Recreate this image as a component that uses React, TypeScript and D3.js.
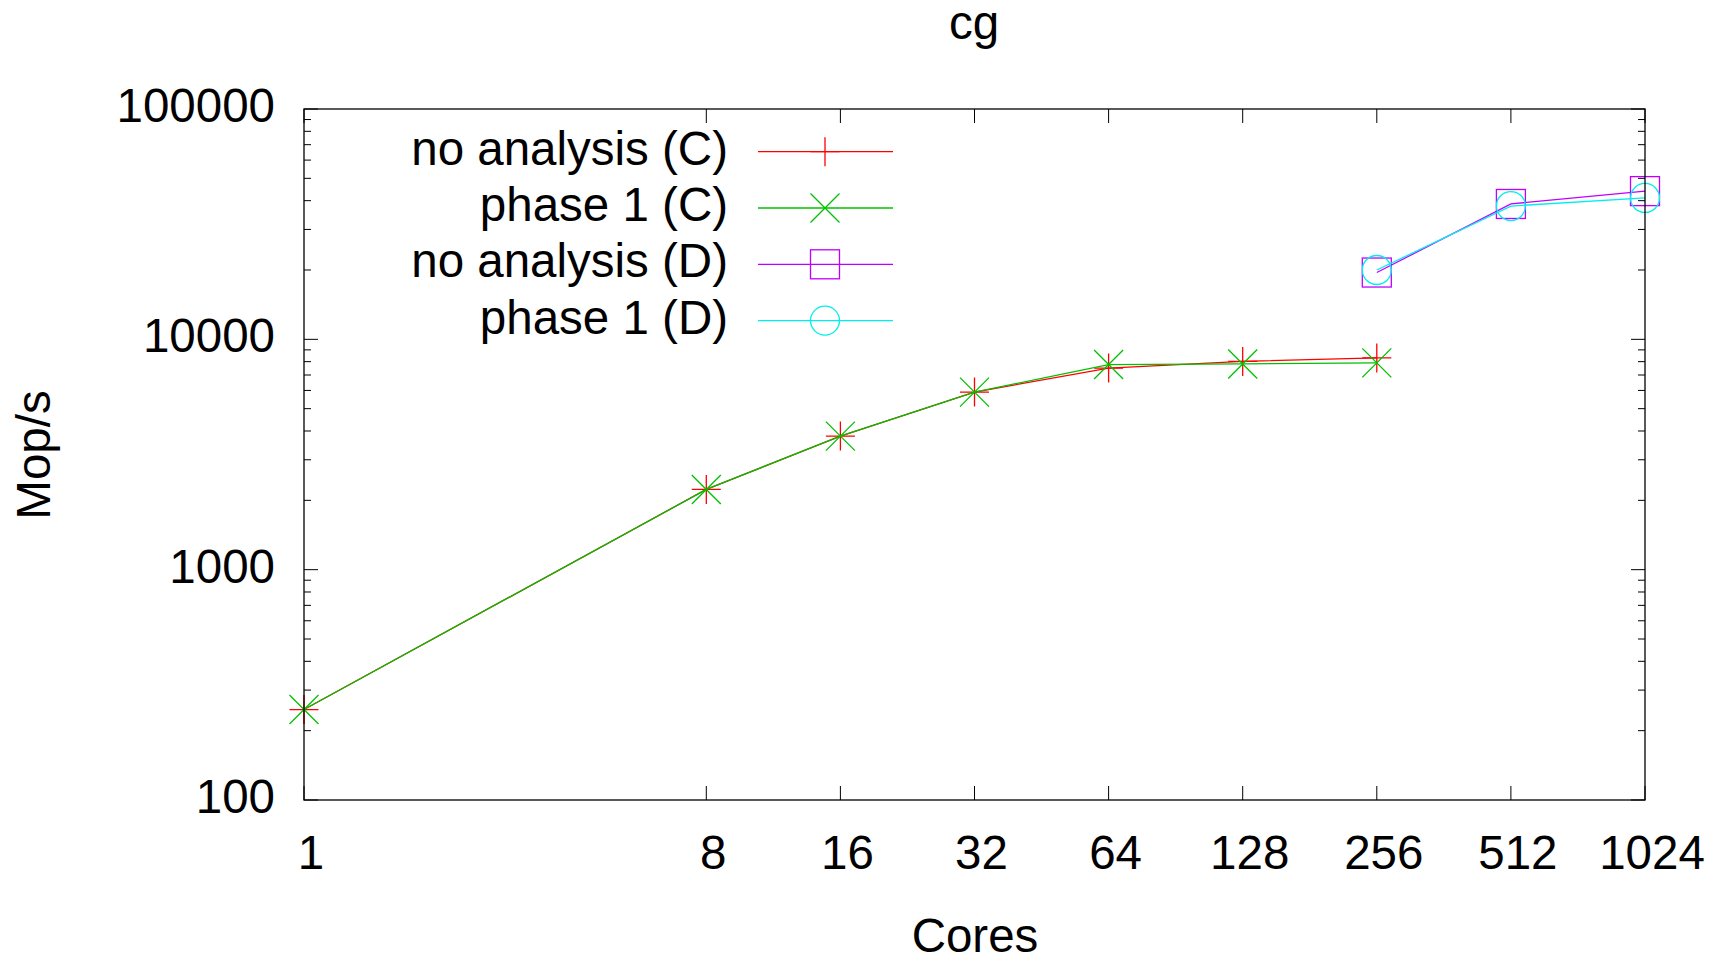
import React from "react";
import * as d3 from "d3";

const cores = [1, 8, 16, 32, 64, 128, 256, 512, 1024];
const coresC = [1, 8, 16, 32, 64, 128, 256];
const noAnalysisC = [247, 2230, 3800, 5900, 7500, 8020, 8300];
const phase1C = [247, 2230, 3800, 5900, 7770, 7820, 7900];
const coresD = [256, 512, 1024];
const noAnalysisD = [19500, 38700, 44000];
const phase1D = [20000, 37900, 41100];
const yTicks = [100, 1000, 10000, 100000];
const seriesNames = ["no analysis (C)", "phase 1 (C)", "no analysis (D)", "phase 1 (D)"];
const seriesColors = ["#ff0000", "#00c000", "#c000ff", "#00eeee"];
const seriesMarkers = ["plus", "cross", "square", "circle"];

const W = 1725;
const H = 958;
const L = 304, R = 1645, T = 109, B = 800;
const FONT = "'Liberation Sans', Arial, sans-serif";
const FS = 47.5;
const MS = 14.5;

function Marker({ type, x, y, color }: { type: string; x: number; y: number; color: string }) {
  const sw = 1.3;
  if (type === "plus")
    return <path d={`M${x - MS},${y}H${x + MS}M${x},${y - MS}V${y + MS}`} stroke={color} strokeWidth={sw} fill="none" />;
  if (type === "cross")
    return <path d={`M${x - MS},${y - MS}L${x + MS},${y + MS}M${x - MS},${y + MS}L${x + MS},${y - MS}`} stroke={color} strokeWidth={sw} fill="none" />;
  if (type === "square")
    return <rect x={x - MS} y={y - MS} width={2 * MS} height={2 * MS} stroke={color} strokeWidth={sw} fill="none" />;
  return <circle cx={x} cy={y} r={MS} stroke={color} strokeWidth={sw} fill="none" />;
}

export default function App() {
  const x = d3.scaleLog().base(2).domain([1, 1024]).range([L, R]);
  const y = d3.scaleLog().domain([100, 100000]).range([B, T]);
  const line = d3.line<[number, number]>().x((d) => x(d[0])).y((d) => y(d[1]));

  const series = [
    { xs: coresC, ys: noAnalysisC },
    { xs: coresC, ys: phase1C },
    { xs: coresD, ys: noAnalysisD },
    { xs: coresD, ys: phase1D },
  ];

  const minor: number[] = [];
  for (let dec = 100; dec < 100000; dec *= 10) {
    for (let k = 2; k <= 9; k++) minor.push(dec * k);
  }

  const legendY0 = 151.7;
  const legendDY = 56.3;

  return (
    <svg width={W} height={H} style={{ position: "absolute", left: 0, top: 0, background: "#fff" }} fontFamily={FONT}>
      <rect x={0} y={0} width={W} height={H} fill="#fff" />
      {/* ticks */}
      <g stroke="#000" strokeWidth={1}>
        {yTicks.map((v) => (
          <g key={"yt" + v}>
            <line x1={L} x2={L + 14} y1={y(v)} y2={y(v)} />
            <line x1={R} x2={R - 14} y1={y(v)} y2={y(v)} />
          </g>
        ))}
        {minor.map((v) => (
          <g key={"ym" + v}>
            <line x1={L} x2={L + 7} y1={y(v)} y2={y(v)} />
            <line x1={R} x2={R - 7} y1={y(v)} y2={y(v)} />
          </g>
        ))}
        {cores.map((v) => (
          <g key={"xt" + v}>
            <line x1={x(v)} x2={x(v)} y1={B} y2={B - 14} />
            <line x1={x(v)} x2={x(v)} y1={T} y2={T + 14} />
          </g>
        ))}
      </g>
      {/* tick labels */}
      <g fontSize={FS} fill="#000">
        {yTicks.map((v) => (
          <text key={"yl" + v} x={275} y={y(v) + 13} textAnchor="end">{String(v)}</text>
        ))}
        {cores.map((v) => (
          <text key={"xl" + v} x={x(v) + 7} y={869} textAnchor="middle">{String(v)}</text>
        ))}
        <text x={974} y={39} textAnchor="middle">cg</text>
        <text x={975} y={952} textAnchor="middle">Cores</text>
        <text transform="translate(50,455) rotate(-90)" textAnchor="middle">Mop/s</text>
      </g>
      {/* series */}
      {series.map((s, i) => {
        const pts: [number, number][] = s.xs.map((xv, j) => [xv, s.ys[j]]);
        return (
          <g key={"s" + i}>
            <path d={line(pts) || ""} stroke={seriesColors[i]} strokeWidth={1.3} fill="none" />
            {pts.map((p, j) => (
              <Marker key={j} type={seriesMarkers[i]} x={x(p[0])} y={y(p[1])} color={seriesColors[i]} />
            ))}
          </g>
        );
      })}
      {/* legend */}
      {seriesNames.map((n, i) => {
        const cy = legendY0 + i * legendDY;
        return (
          <g key={"lg" + i}>
            <text x={728} y={cy + 13} fontSize={FS} textAnchor="end" fill="#000">{n}</text>
            <line x1={758} x2={893} y1={cy} y2={cy} stroke={seriesColors[i]} strokeWidth={1.3} />
            <Marker type={seriesMarkers[i]} x={825} y={cy} color={seriesColors[i]} />
          </g>
        );
      })}
      {/* border */}
      <rect x={L} y={T} width={R - L} height={B - T} fill="none" stroke="#000" strokeWidth={1.3} />
    </svg>
  );
}
